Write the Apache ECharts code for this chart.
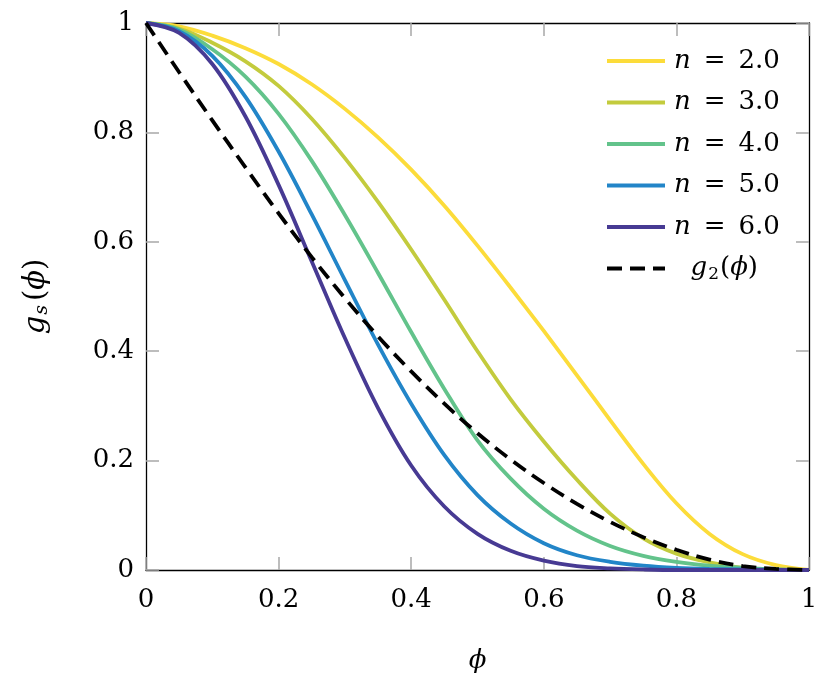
<!DOCTYPE html>
<html>
<head>
<meta charset="utf-8">
<script src="https://cdn.jsdelivr.net/npm/echarts@6/dist/echarts.min.js"></script>
<style>
  html, body { margin: 0; padding: 0; background: #fff; }
  #chart { width: 830px; height: 679px; }
</style>
</head>
<body>
<div id="chart"></div>
<script>
// values
const phi = [0, 0.05, 0.1, 0.15, 0.2, 0.25, 0.3, 0.35, 0.4, 0.45, 0.5, 0.55, 0.6, 0.65, 0.7, 0.75, 0.8, 0.85, 0.9, 0.95, 1];
const n2 = [1, 0.994, 0.977, 0.954, 0.925, 0.888, 0.843, 0.791, 0.732, 0.666, 0.593, 0.516, 0.437, 0.356, 0.274, 0.194, 0.122, 0.066, 0.029, 0.009, 0];
const n3 = [1, 0.99, 0.964, 0.93, 0.885, 0.825, 0.753, 0.673, 0.586, 0.494, 0.4, 0.312, 0.235, 0.165, 0.103, 0.058, 0.03, 0.014, 0.004, 0.001, 0];
const n4 = [1, 0.988, 0.952, 0.902, 0.834, 0.748, 0.649, 0.543, 0.435, 0.331, 0.237, 0.167, 0.112, 0.072, 0.044, 0.026, 0.015, 0.008, 0.004, 0.001, 0];
const n5 = [1, 0.985, 0.94, 0.865, 0.765, 0.65, 0.53, 0.412, 0.304, 0.21, 0.137, 0.085, 0.049, 0.027, 0.015, 0.008, 0.004, 0.002, 0.001, 0.0005, 0];
const n6 = [1, 0.982, 0.925, 0.829, 0.704, 0.564, 0.424, 0.296, 0.191, 0.116, 0.066, 0.035, 0.017, 0.007, 0.003, 0.001, 0, 0, 0, 0, 0];
const g2 = [1, 0.91, 0.822, 0.736, 0.652, 0.572, 0.497, 0.427, 0.363, 0.304, 0.25, 0.202, 0.159, 0.121, 0.088, 0.06, 0.037, 0.019, 0.007, 0.002, 0];

const seriesNames = ["n = 2.0", "n = 3.0", "n = 4.0", "n = 5.0", "n = 6.0", "g2"];
const seriesValues = [n2, n3, n4, n5, n6, g2];
const colors = ["#fcdc3a", "#c3cb3d", "#63c38b", "#2285c8", "#473a93", "#000000"];

const font = "DejaVu Serif";
const rich = {
    i: { fontFamily: font, fontStyle: "italic", fontSize: 26, color: "#000" },
    t: { fontFamily: font, fontSize: 26, color: "#000" },
    s: { fontFamily: font, fontSize: 17, color: "#000", padding: [12, 1, 0, 1] },
    si: { fontFamily: font, fontStyle: "italic", fontSize: 17, color: "#000", padding: [12, 3, 0, 1] }
};
// slightly larger text for the y axis name
const richY = {
    i: { fontFamily: font, fontStyle: "italic", fontSize: 29, color: "#000" },
    t: { fontFamily: font, fontSize: 29, color: "#000" },
    si: { fontFamily: font, fontStyle: "italic", fontSize: 19, color: "#000", padding: [13, 4, 0, 1] }
};

const tickStyle = { show: true, inside: true, length: 13, lineStyle: { color: "#a8a8a8", width: 1.5 } };
const frame = { show: true, onZero: false, lineStyle: { color: "#000", width: 1.3 } };

let chart = echarts.init(document.getElementById("chart"));
let option = {
    animation: false,
    grid: { left: 146, top: 23, width: 663, height: 550 },
    legend: {
        left: 605,
        top: 46,
        orient: "vertical",
        padding: 0,
        itemWidth: 58,
        itemHeight: 14,
        itemGap: 11.5,
        data: seriesNames,
        itemStyle: { opacity: 0 },
        lineStyle: { width: 4 },
        formatter: (name) => {
            if (name === "g2") return "{t|  }{i|g}{s|2}{t|(}{i|ϕ}{t|)}";
            return "{i|n}{t|\u2002=\u2002" + name.slice(4) + "}";
        },
        textStyle: { fontFamily: font, fontSize: 26, lineHeight: 30, padding: [0, 0, 0, 4], rich: rich }
    },
    xAxis: [
        {
            type: "value", min: 0, max: 1, interval: 0.2,
            name: "{i|ϕ}", nameLocation: "middle", nameGap: 78,
            nameTextStyle: { rich: rich },
            axisLine: frame, axisTick: tickStyle, splitLine: { show: false },
            axisLabel: { fontFamily: font, fontSize: 26, color: "#000", margin: 17 }
        },
        {
            type: "value", min: 0, max: 1, interval: 0.2, position: "top",
            axisLine: frame, axisTick: tickStyle, splitLine: { show: false },
            axisLabel: { show: false }
        }
    ],
    yAxis: [
        {
            type: "value", min: 0, max: 1, interval: 0.2,
            name: "{i|g}{si|s}{t|(}{i|ϕ}{t|)}", nameLocation: "middle", nameGap: 94, nameRotate: 90,
            nameTextStyle: { rich: richY },
            axisLine: frame, axisTick: tickStyle, splitLine: { show: false },
            axisLabel: { fontFamily: font, fontSize: 26, color: "#000", margin: 12 }
        },
        {
            type: "value", min: 0, max: 1, interval: 0.2, position: "right",
            axisLine: frame, axisTick: tickStyle, splitLine: { show: false },
            axisLabel: { show: false }
        }
    ],
    series: seriesNames.map((name, k) => ({
        name: name,
        type: "line",
        data: phi.map((x, i) => [x, seriesValues[k][i]]),
        smooth: 0.35,
        symbol: "none",
        color: colors[k],
        lineStyle: {
            color: colors[k],
            width: 3.8,
            type: name === "g2" ? [15, 8] : "solid"
        },
        z: 2 + k
    }))
};
chart.setOption(option);
</script>
</body>
</html>
